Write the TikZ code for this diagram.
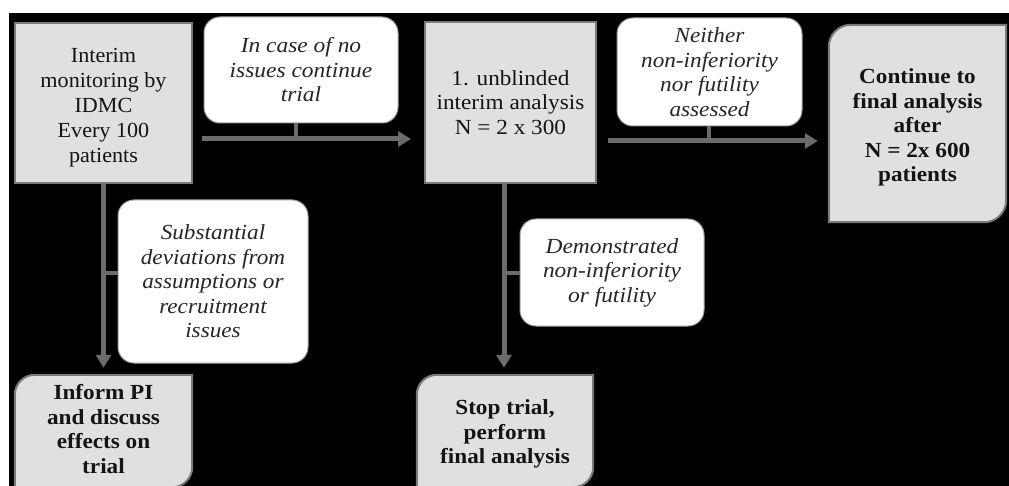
\documentclass[tikz,border=0pt]{standalone}
\usepackage{fontspec}
\setmainfont{Liberation Serif}
\usetikzlibrary{arrows.meta,calc}
\definecolor{boxfill}{HTML}{E0E0E0}
\definecolor{boxline}{HTML}{7A7A7A}
\definecolor{arrgray}{HTML}{6B6B6B}
\definecolor{callline}{HTML}{A0A0A0}
\definecolor{calltext}{HTML}{262626}
\newcommand\basefont{\fontsize{21.5}{24.5}\selectfont}
\newcommand\diagbox[2]{%
  \draw[boxsty] ([xshift=#2]#1.north west) -- (#1.north east) -- ([yshift=#2]#1.south east)
    .. controls ([yshift=0.45*#2]#1.south east) and ([xshift=-0.45*#2]#1.south east) .. ([xshift=-#2]#1.south east)
    -- (#1.south west) -- ([yshift=-#2]#1.north west)
    .. controls ([yshift=-0.45*#2]#1.north west) and ([xshift=0.45*#2]#1.north west) .. cycle;}
\tikzset{
  boxsty/.style={fill=boxfill, draw=boxline, line width=2pt},
  sqbox/.style={boxsty, inner sep=0pt, align=center, text=black!92},
  shapebox/.style={inner sep=0pt},
  boxtext/.style={inner sep=0pt, align=center, text=black!92},
  callout/.style={fill=white, draw=callline, line width=1pt, rounded corners=16pt, inner sep=0pt, align=center, text=calltext},
  rfont/.style={font={\basefont\addfontfeature{FakeStretch=#1}}},
  ifont/.style={font={\basefont\itshape\addfontfeature{FakeStretch=#1}}},
  bfont/.style={font={\basefont\bfseries\addfontfeature{FakeStretch=#1}}},
  flow/.style={draw=arrgray, line width=5pt, -{Triangle[length=13pt,width=15pt]}},
  stem/.style={draw=arrgray, line width=4pt}
}
\begin{document}
\begin{tikzpicture}[x=1pt,y=-1pt]
\useasboundingbox (0,0) rectangle (1009,486);
\fill[white] (0,0) rectangle (1009,486);
\fill[black] (9,13) rectangle (1009,486);

% main boxes
\node[sqbox, minimum width=177pt, minimum height=160pt] (A) at (103.5,103) {};
\node[boxtext, font={\fontsize{21.5}{25}\selectfont\addfontfeature{FakeStretch=1.03}}] (At) at ($(A.center)+(0,5)$)
  {Interim\\monitoring by\\IDMC\\Every 100\\patients};
\node[sqbox, rfont=1.08, minimum width=171pt, minimum height=161pt] (B) at (510.5,102.5)
  {1. unblinded\\interim analysis\\N = 2 x 300};
\node[shapebox, minimum width=177pt, minimum height=197pt] (C) at (917.5,123.5) {};
\diagbox{C}{22pt}
\node[boxtext, bfont=1.08] (Ct) at ($(C.center)+(0,4)$)
  {Continue to\\final analysis\\after\\N = 2x 600\\patients};
\node[shapebox, minimum width=177pt, minimum height=112pt] (D) at (103.5,431) {};
\diagbox{D}{20pt}
\node[boxtext, bfont=1.08] (Dt) at ($(D.center)+(0,-2)$)
  {Inform PI\\and discuss\\effects on\\trial};
\node[shapebox, minimum width=176pt, minimum height=112pt] (E) at (505,431) {};
\diagbox{E}{20pt}
\node[boxtext, bfont=1.08] (Et) at ($(E.center)+(0,3)$)
  {Stop trial,\\perform\\final analysis};

% callouts
\node[callout, ifont=1.09, minimum width=194pt, minimum height=106pt] (C1) at (301,70)
  {In case of no\\issues continue\\trial};
\node[callout, ifont=1.08, minimum width=185pt, minimum height=108pt] (C2) at (709.5,72)
  {Neither\\non-inferiority\\nor futility\\assessed};
\node[callout, ifont=1.08, minimum width=190pt, minimum height=163pt] (C3) at (213,281.5)
  {Substantial\\deviations from\\assumptions or\\recruitment\\issues};
\node[callout, ifont=1.09, minimum width=184pt, minimum height=107pt] (C4) at (612,272.5)
  {Demonstrated\\non-inferiority\\or futility};

% connectors
\coordinate (s1) at (296,139);
\coordinate (s2) at (709,141);
\coordinate (s3) at (103.5,273);
\coordinate (s4) at (504,273);

\draw[flow, shorten <=9pt, shorten >=13pt] (A.east |- s1) -- (B.west |- s1);
\draw[stem] (C1.south -| s1) -- (s1);
\draw[flow, shorten <=11pt, shorten >=11pt] (B.east |- s2) -- (C.west |- s2);
\draw[stem] (C2.south -| s2) -- (s2);
\draw[flow, shorten >=7pt] (A.south) -- (D.north);
\draw[stem] (C3.west |- s3) -- (s3);
\draw[flow, shorten >=7pt] (s4 |- B.south) -- (s4 |- E.north);
\draw[stem] (C4.west |- s4) -- (s4);
\end{tikzpicture}
\end{document}
